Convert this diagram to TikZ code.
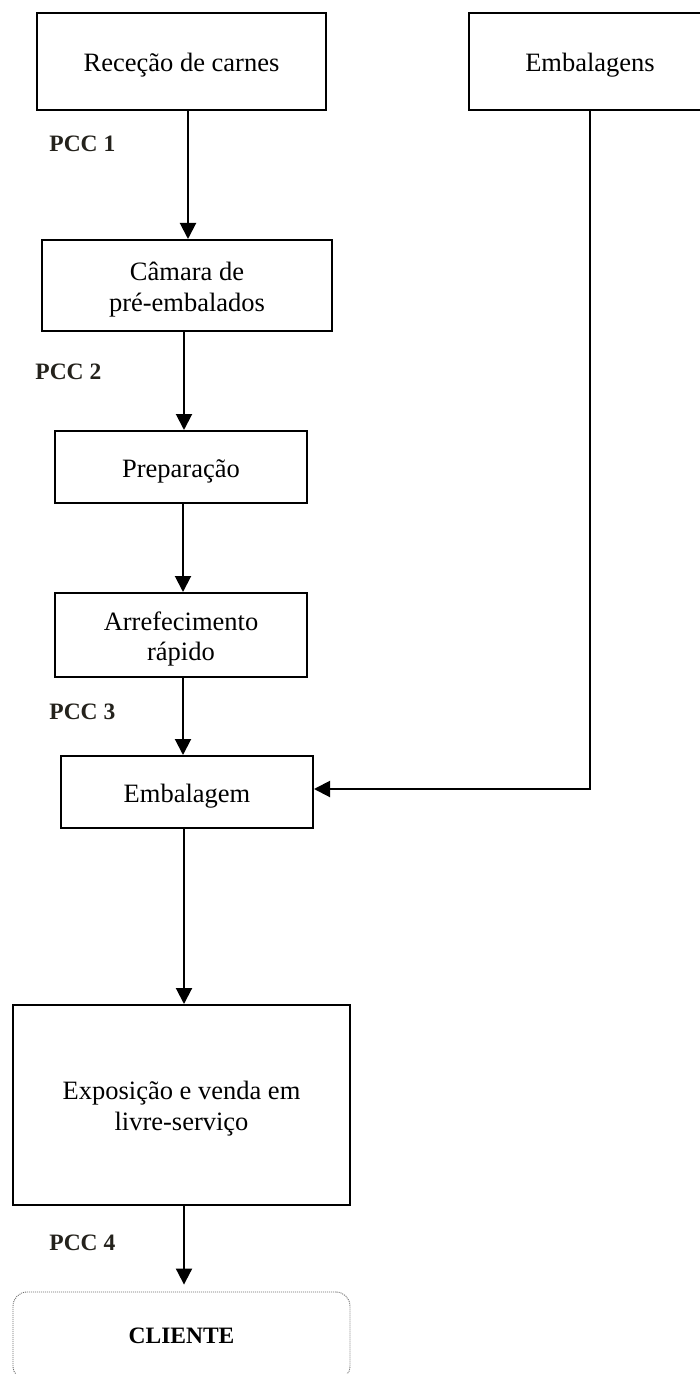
\documentclass[tikz,border=0pt]{standalone}
\usepackage{fontspec}
\setmainfont{Liberation Serif}
\usetikzlibrary{arrows.meta}
\definecolor{pcccol}{RGB}{36,34,28}
\definecolor{dotcol}{RGB}{110,110,110}
\newcommand\lowline[1]{\raisebox{-2pt}[\height][\depth]{#1}}
\tikzset{
  stepbox/.style={draw=black, line width=1pt, rectangle, align=center,
    inner sep=0pt, font=\fontsize{13.25}{15.4}\selectfont},
  pcclabel/.style={anchor=west, inner sep=0pt, text=pcccol,
    font=\fontsize{11.75}{14}\selectfont\bfseries},
  arr/.style={line width=1pt, -{Triangle[length=8pt,width=8pt]}},
  clientbox/.style={draw=dotcol, line width=0.45pt, dash pattern=on 0.5pt off 0.5pt,
    rounded corners=7pt, rectangle, align=center, inner sep=0pt,
    font=\fontsize{11.75}{14}\selectfont\bfseries}
}
\begin{document}
\begin{tikzpicture}[x=0.5pt,y=-0.5pt]
\useasboundingbox (0,0) rectangle (700,1374);
\clip (0,0) rectangle (700,1374);
\fill[white] (0,0) rectangle (700,1374);

\node[stepbox, minimum width=144.5pt, minimum height=48.5pt] (rec) at (181.5,61.5) {\lowline{Receção de carnes}};
\node[stepbox, minimum width=121pt, minimum height=48.5pt] (embs) at (590,61.5) {\lowline{Embalagens}};
\node[stepbox, minimum width=145pt, minimum height=45.5pt] (cam) at (187,285.5) {\lowline{Câmara de}\\\lowline{pré-embalados}};
\node[stepbox, minimum width=126pt, minimum height=36pt] (prep) at (181,467) {\lowline{Preparação}};
\node[stepbox, minimum width=126pt, minimum height=42pt] (arref) at (181,635) {\lowline{Arrefecimento}\\\lowline{rápido}};
\node[stepbox, minimum width=126pt, minimum height=36pt] (emb) at (187,792) {\lowline{Embalagem}};
\node[stepbox, minimum width=168.5pt, minimum height=100pt] (expo) at (181.5,1105) {\lowline{Exposição e venda em}\\\lowline{livre-serviço}};
\node[clientbox, minimum width=168.5pt, minimum height=44pt] (cli) at (181.5,1336) {CLIENTE};

\node[pcclabel] (p1) at (49,144) {PCC 1};
\node[pcclabel] (p2) at (35,372) {PCC 2};
\node[pcclabel] (p3) at (49,712) {PCC 3};
\node[pcclabel] (p4) at (49,1243) {PCC 4};

\draw[arr] ([xshift=3.25pt]rec.south) -- ([xshift=3.25pt]rec.south |- cam.north);
\draw[arr] ([xshift=-1.5pt]cam.south) -- ([xshift=-1.5pt]cam.south |- prep.north);
\draw[arr] ([xshift=1pt]prep.south) -- ([xshift=1pt]prep.south |- arref.north);
\draw[arr] ([xshift=1pt]arref.south) -- ([xshift=1pt]arref.south |- emb.north);
\draw[arr] ([xshift=-1.5pt]emb.south) -- ([xshift=-1.5pt]emb.south |- expo.north);
\draw[arr, shorten >=3.5pt] ([xshift=1.25pt]expo.south) -- ([xshift=1.25pt]expo.south |- cli.north);
\draw[arr] (embs.south) |- ([yshift=1.5pt]emb.east);
\end{tikzpicture}
\end{document}
